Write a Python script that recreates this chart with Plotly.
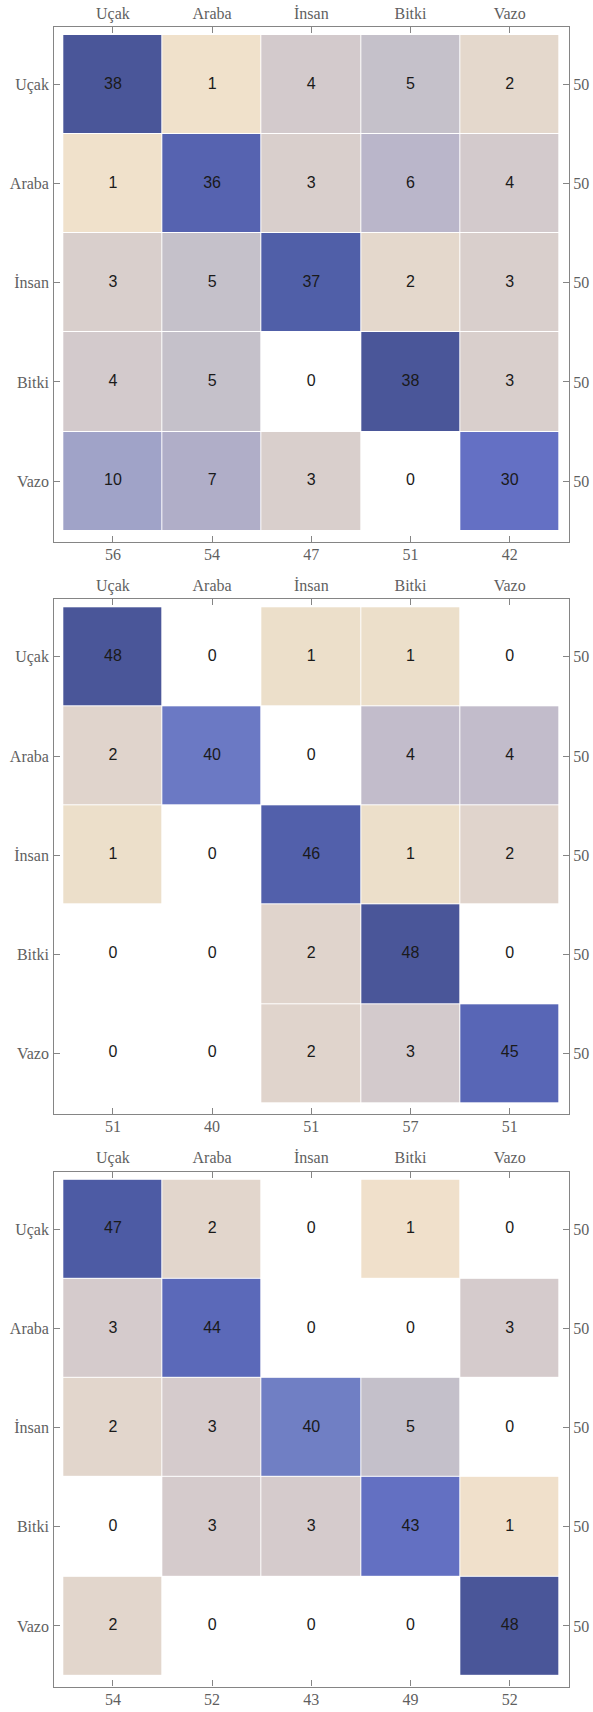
import plotly.graph_objects as go

# ---------------- DATA ----------------
classes = ["Uçak", "Araba", "İnsan", "Bitki", "Vazo"]

matrix_1 = [
    [38, 1, 4, 5, 2],
    [1, 36, 3, 6, 4],
    [3, 5, 37, 2, 3],
    [4, 5, 0, 38, 3],
    [10, 7, 3, 0, 30],
]
matrix_2 = [
    [48, 0, 1, 1, 0],
    [2, 40, 0, 4, 4],
    [1, 0, 46, 1, 2],
    [0, 0, 2, 48, 0],
    [0, 0, 2, 3, 45],
]
matrix_3 = [
    [47, 2, 0, 1, 0],
    [3, 44, 0, 0, 3],
    [2, 3, 40, 5, 0],
    [0, 3, 3, 43, 1],
    [2, 0, 0, 0, 48],
]
matrices = [matrix_1, matrix_2, matrix_3]

# ---------------- STYLE ----------------
# colour anchors (value -> colour) for each panel
color_anchors = [
    [(1, "#f0e1cb"), (2, "#e4d8cc"), (3, "#d9cfcc"), (4, "#d3cacc"), (5, "#c5c1ca"),
     (6, "#bab6ca"), (7, "#b0aec8"), (10, "#a0a3c8"), (30, "#6470c4"), (36, "#5663b0"),
     (37, "#505fa8"), (38, "#4a5699")],
    [(1, "#ecdfca"), (2, "#e0d4cc"), (3, "#d3cacc"), (4, "#c2bccb"), (40, "#6b79c4"),
     (45, "#5866b6"), (46, "#5260ab"), (48, "#4a5699")],
    [(1, "#f0e0cb"), (2, "#e2d6cc"), (3, "#d5cbcc"), (5, "#c4c0ca"), (40, "#707fc4"),
     (43, "#6370c2"), (44, "#5b69b9"), (47, "#4d5ba4"), (48, "#4a5699")],
]

W, H = 593, 1712
frame_left, frame_right = 54.3, 569.3
cell_left, cell_right = 63.3, 559.3
frames_v = [(26.7, 541.7), (599.0, 1114.0), (1171.5, 1686.5)]
pad_top, pad_bottom = 8.3, 11.0
label_font = dict(family="Liberation Serif", size=16, color="#5f5f5f")
num_font = dict(family="Liberation Sans", size=16, color="#1a1a1a")
line_col = "#858585"

n = len(classes)
fig = go.Figure()

col_w = (cell_right - cell_left) / n
x_range = [-0.5 - (cell_left - frame_left) / col_w, n - 0.5 + (frame_right - cell_right) / col_w]
x_domain = [frame_left / W, frame_right / W]

for k, mat in enumerate(matrices):
    top, bot = frames_v[k]
    row_h = (bot - top - pad_top - pad_bottom) / n
    y_range = [n - 0.5 + pad_bottom / row_h, -0.5 - pad_top / row_h]
    y_domain = [1 - bot / H, 1 - top / H]

    xb = f"x{2*k+1}"; xt = f"x{2*k+2}"
    yl = f"y{2*k+1}"; yr = f"y{2*k+2}"
    xb_key = "xaxis" if k == 0 else f"xaxis{2*k+1}"
    xt_key = f"xaxis{2*k+2}"
    yl_key = "yaxis" if k == 0 else f"yaxis{2*k+1}"
    yr_key = f"yaxis{2*k+2}"

    anchors = color_anchors[k]
    zmin, zmax = anchors[0][0], anchors[-1][0]
    cs = [[(v - zmin) / (zmax - zmin), c] for v, c in anchors]

    z = [[(v if v != 0 else None) for v in row] for row in mat]
    fig.add_trace(go.Heatmap(
        z=z, x=list(range(n)), y=list(range(n)),
        colorscale=cs, zmin=zmin, zmax=zmax, showscale=False,
        xgap=1, ygap=1, hoverinfo="skip",
        xaxis=xb, yaxis=yl,
    ))
    xs, ys, ts = [], [], []
    for i, row in enumerate(mat):
        for j, v in enumerate(row):
            xs.append(j); ys.append(i); ts.append(str(v))
    fig.add_trace(go.Scatter(
        x=xs, y=ys, text=ts, mode="text", textfont=num_font,
        hoverinfo="skip", showlegend=False, xaxis=xb, yaxis=yl,
    ))
    # empty trace to register overlay axes
    fig.add_trace(go.Scatter(x=[], y=[], xaxis=xt, yaxis=yr, showlegend=False, hoverinfo="skip"))

    col_tot = [sum(mat[i][j] for i in range(n)) for j in range(n)]
    row_tot = [sum(r) for r in mat]

    common = dict(showgrid=False, zeroline=False, ticks="inside", ticklen=6,
                  tickcolor=line_col, tickwidth=1, tickfont=label_font, automargin=False)
    fig.layout[xb_key] = dict(common, domain=x_domain, range=x_range, anchor=yl,
                              tickvals=list(range(n)), ticktext=[str(t) for t in col_tot],
                              showline=True, linecolor=line_col, linewidth=1.3, mirror=True,
                              side="bottom", ticklabelstandoff=-2)
    fig.layout[xt_key] = dict(common, overlaying=xb, range=x_range, anchor=yl, side="top",
                              tickvals=list(range(n)), ticktext=classes, showline=False,
                              ticklabelstandoff=4)
    fig.layout[yl_key] = dict(common, domain=y_domain, range=y_range, anchor=xb,
                              tickvals=list(range(n)), ticktext=classes,
                              showline=True, linecolor=line_col, linewidth=1.3, mirror=True,
                              side="left", ticklabelstandoff=1)
    fig.layout[yr_key] = dict(common, overlaying=yl, range=y_range, anchor=xb, side="right",
                              tickvals=list(range(n)), ticktext=[str(t) for t in row_tot],
                              showline=False, ticklabelstandoff=3)

fig.update_layout(
    width=W, height=H, margin=dict(l=0, r=0, t=0, b=0, autoexpand=False),
    paper_bgcolor="white", plot_bgcolor="white", showlegend=False,
)
fig.write_html("out.html", config={"displayModeBar": False},
               post_script="document.body.style.margin='0';document.body.style.padding='0';")
